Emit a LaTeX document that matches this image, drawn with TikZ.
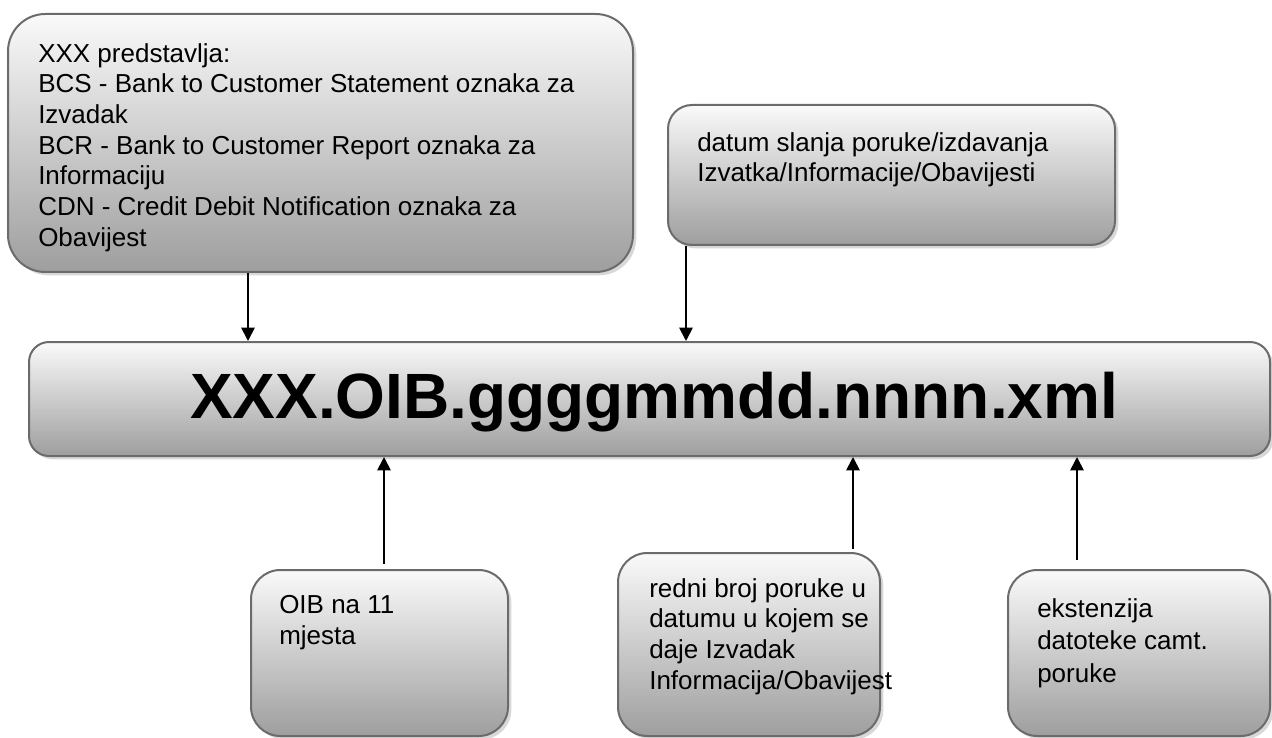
\documentclass[tikz,border=0pt]{standalone}
\usepackage{fontspec}
\setmainfont{Liberation Sans}
\usetikzlibrary{shadows,fit,arrows.meta}
\definecolor{edgegray}{HTML}{6B6B6B}
\begin{document}
\tikzset{
  box/.style={draw=edgegray, line width=1.5pt, top color=white!98!black, bottom color=black!38,
    inner sep=0pt, drop shadow={shadow xshift=2.5pt, shadow yshift=-2.5pt, fill=black!30}},
  txt/.style={inner sep=0pt, align=left, anchor=north west, font=\fontsize{19.5}{23}\selectfont},
  arr/.style={line width=1.3pt, -{Triangle[width=10pt,length=10pt]}},
}
\begin{tikzpicture}[x=0.75pt,y=-0.75pt]
\useasboundingbox (0,0) rectangle (1272,738);
% boxes
\node[box, rounded corners=28pt, fit={(8,14) (633,272)}] (b1) {};
\node[box, rounded corners=18pt, fit={(668,105) (1115,245)}] (b2) {};
\node[box, rounded corners=15pt, fit={(29,342) (1270,456)}] (m) {};
\node[box, rounded corners=22pt, fit={(251,570) (508,736)}] (o) {};
\node[box, rounded corners=22pt, fit={(618,553) (880,736)}] (r) {};
\node[box, rounded corners=22pt, fit={(1008,570) (1270,736)}] (e) {};
% texts
\node[txt] (t1) at (38,43) {XXX predstavlja:\\BCS - Bank to Customer Statement oznaka za\\Izvadak\\BCR - Bank to Customer Report oznaka za\\Informaciju\\CDN - Credit Debit Notification oznaka za\\Obavijest};
\node[txt] (t2) at (697,132) {datum slanja poruke/izdavanja\\Izvatka/Informacije/Obavijesti};
\node[txt] (t3) at (279,595) {OIB na 11\\mjesta};
\node[txt] (t4) at (649,578) {redni broj poruke u\\datumu u kojem se\\daje Izvadak\\Informacija/Obavijest};
\node[txt, font=\fontsize{19.5}{24.4}\selectfont] (t5) at (1037,598) {ekstenzija\\datoteke camt.\\poruke};
\node[inner sep=0pt, anchor=base, font=\fontsize{48}{50}\selectfont\bfseries] (tm) at (654,418) {XXX.OIB.ggggmmdd.nnnn.xml};
% arrows
\coordinate (x1) at (248,0);
\coordinate (x2) at (686,0);
\coordinate (x3) at (384,0);
\coordinate (x4) at (853,0);
\coordinate (x5) at (1077,0);
\draw[arr] (x1 |- b1.south) -- (x1 |- m.north);
\draw[arr] (x2 |- b2.south) -- (x2 |- m.north);
\draw[arr, shorten <=4pt] (x3 |- o.north) -- (x3 |- m.south);
\draw[arr, shorten <=2pt] (x4 |- r.north) -- (x4 |- m.south);
\draw[arr, shorten <=7pt] (x5 |- e.north) -- (x5 |- m.south);
\end{tikzpicture}
\end{document}
